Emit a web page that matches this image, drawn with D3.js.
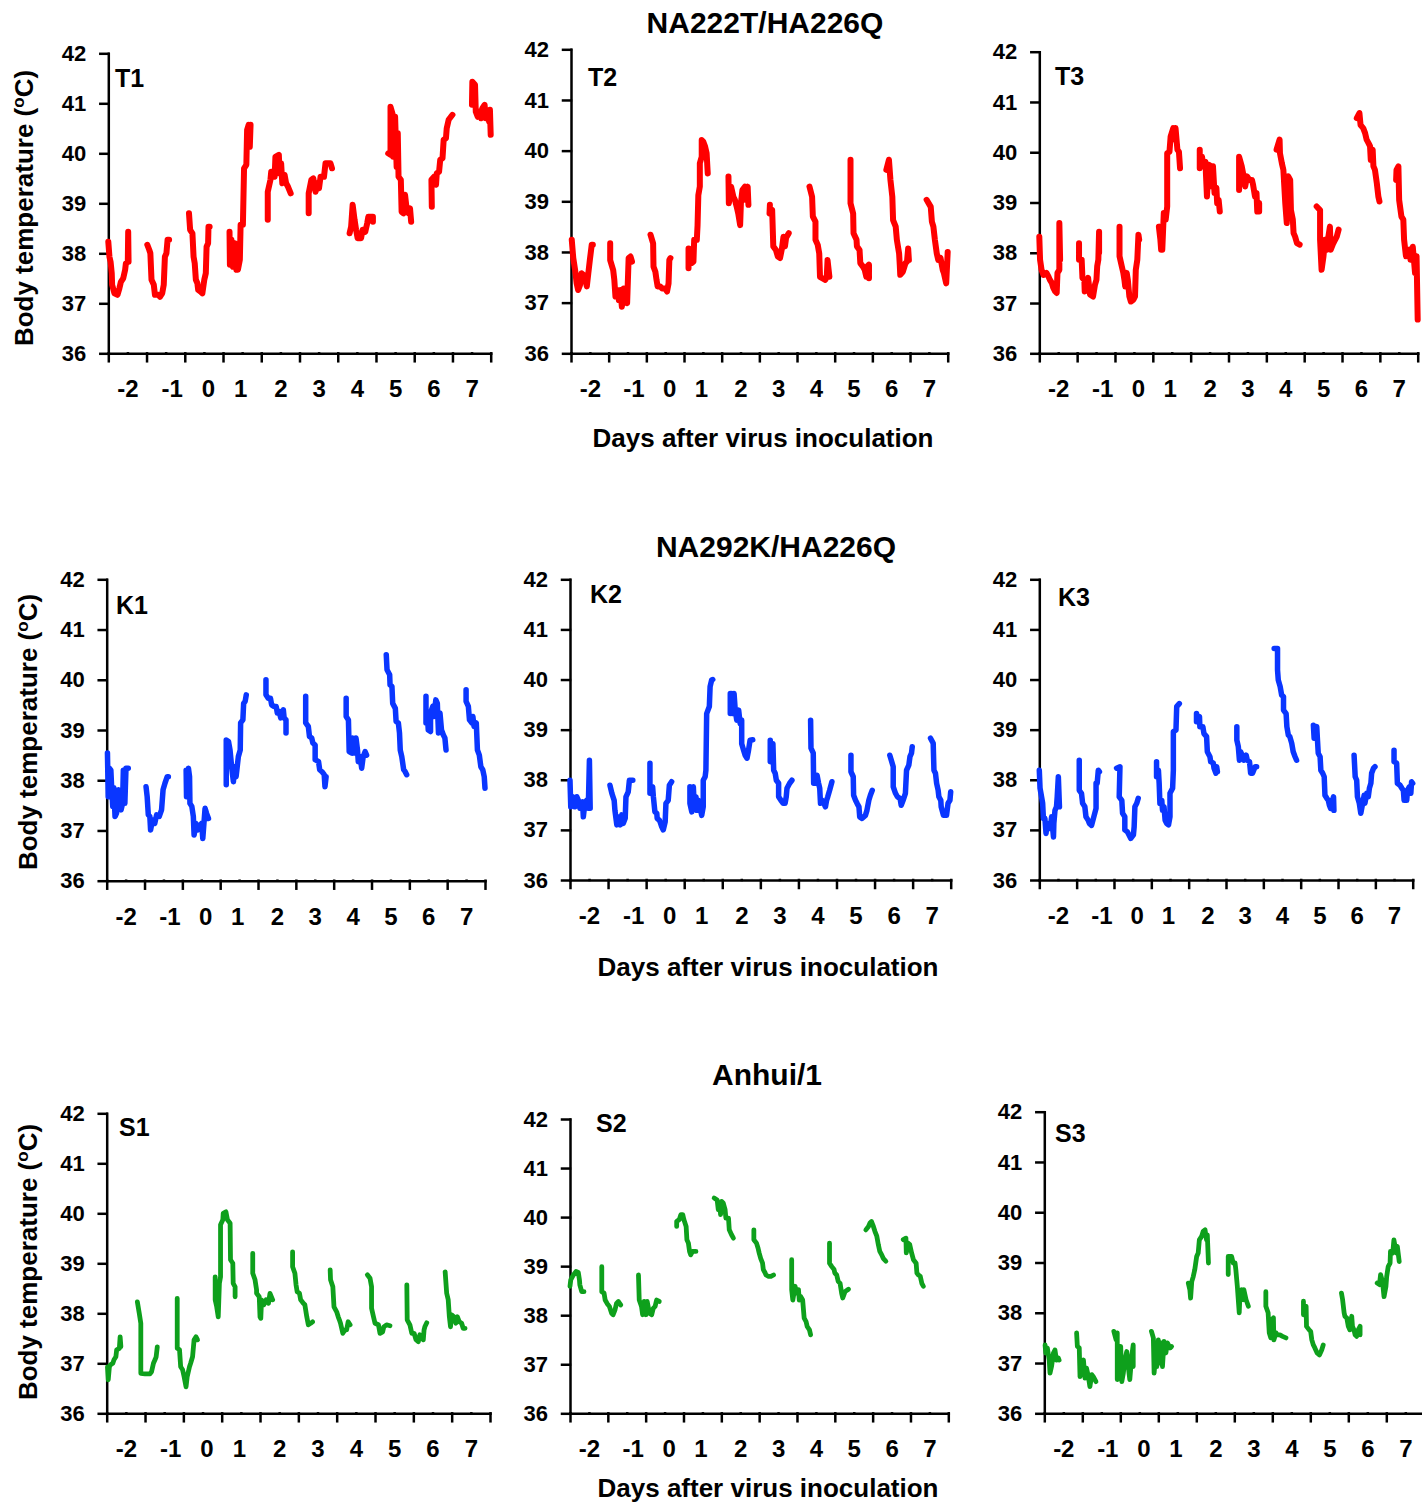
<!DOCTYPE html>
<html>
<head>
<meta charset="utf-8">
<script src="https://cdn.jsdelivr.net/npm/d3@7"></script>
<style>
body { margin: 0; background: #fff; }
text { font-family: Arial, "Liberation Sans", sans-serif; font-weight: bold; fill: #000; }
</style>
</head>
<body>
<div id="chart"></div>
<script>
// day labels on the x axis and temperature ticks on the y axis
const dayLabels = [-2, -1, 0, 1, 2, 3, 4, 5, 6, 7];
const tempTicks = [36, 37, 38, 39, 40, 41, 42];

// telemetry traces, one entry per day: [day, [[fraction of day after that day's tick, temperature], ...]]
const t1 = [
  [-2, [[0,38.23],[.03,37.93],[.06,37.83],[.09,37.6],[.10,37.37],[.16,37.2],[.24,37.17],[.29,37.3],[.33,37.43],[.39,37.5],[.44,37.67],[.46,37.8],[.51,37.83],[.52,38.43],[.53,37.83]]],
  [-1, [[.02,38.17],[.07,38.07],[.10,38.0],[.13,37.47],[.19,37.37],[.22,37.17],[.31,37.17],[.35,37.13],[.41,37.2],[.45,37.37],[.48,37.93],[.52,38.0],[.55,38.27],[.59,38.27]]],
  [0, [[.11,38.8],[.14,38.47],[.20,38.4],[.23,37.93],[.26,37.8],[.29,37.47],[.33,37.4],[.35,37.27],[.42,37.23],[.46,37.2],[.51,37.47],[.55,37.6],[.57,38.13],[.61,38.2],[.62,38.53],[.65,38.53]]],
  [1, [[.17,38.43],[.18,37.77],[.22,38.27],[.26,37.73],[.31,38.2],[.35,37.67],[.39,37.67],[.44,37.87],[.46,38.57],[.52,38.57],[.55,39.7],[.61,39.77],[.63,40.47],[.67,40.57],[.70,40.13],[.72,40.57]]],
  [2, [[.17,38.67],[.17,39.23],[.24,39.47],[.26,39.63],[.32,39.63],[.35,39.53],[.37,39.93],[.46,39.97],[.48,39.6],[.52,39.8],[.55,39.4],[.61,39.57],[.65,39.4],[.70,39.33],[.77,39.2]]],
  [3, [[.24,38.8],[.24,39.2],[.31,39.47],[.36,39.5],[.42,39.23],[.46,39.4],[.51,39.3],[.55,39.53],[.64,39.53],[.68,39.8],[.81,39.8],[.85,39.7]]],
  [4, [[.31,38.4],[.35,38.53],[.39,38.97],[.44,38.67],[.48,38.47],[.52,38.3],[.61,38.3],[.65,38.47],[.72,38.43],[.77,38.6],[.80,38.73],[.92,38.73],[.92,38.63]]],
  [5, [[.32,40.0],[.38,39.97],[.38,40.93],[.44,40.77],[.45,39.93],[.50,40.73],[.54,39.73],[.57,40.4],[.59,39.53],[.65,39.47],[.67,38.83],[.72,38.8],[.76,39.17],[.80,38.9],[.85,38.8],[.89,38.9],[.92,38.63]]],
  [6, [[.46,38.93],[.45,39.47],[.52,39.53],[.57,39.37],[.59,39.6],[.65,39.63],[.68,39.87],[.74,39.9],[.77,40.27],[.83,40.3],[.85,40.5],[.90,40.67],[1.0,40.77]]],
  [7, [[.51,40.97],[.52,41.43],[.59,41.37],[.61,40.83],[.66,40.73],[.70,40.83],[.75,40.7],[.78,40.9],[.84,40.97],[.87,40.7],[.92,40.77],[.96,40.63],[.98,40.87],[1.0,40.37]]]
];
const t2 = [
  [-2, [[.02,38.24],[.06,37.88],[.11,37.64],[.15,37.38],[.19,37.25],[.24,37.35],[.28,37.58],[.33,37.55],[.37,37.48],[.42,37.32],[.46,37.58],[.50,37.84],[.55,38.14],[.58,38.14]]],
  [-1, [[.04,38.17],[.04,37.84],[.12,37.64],[.15,37.45],[.18,37.12],[.24,37.25],[.27,37.05],[.31,37.25],[.35,36.92],[.40,37.28],[.44,37.12],[.49,36.99],[.53,37.88],[.58,37.91],[.62,37.81]]],
  [0, [[.11,38.34],[.18,38.17],[.19,37.71],[.24,37.61],[.27,37.45],[.30,37.32],[.37,37.32],[.42,37.28],[.50,37.28],[.55,37.22],[.59,37.38],[.61,37.84],[.64,37.88]]],
  [1, [[.12,37.68],[.12,38.07],[.19,38.04],[.20,37.78],[.25,37.81],[.27,38.24],[.34,38.24],[.36,38.53],[.38,39.12],[.42,39.29],[.42,39.75],[.47,39.88],[.47,40.21],[.51,40.18],[.56,40.08],[.60,39.95],[.63,39.55]]],
  [2, [[.18,39.49],[.19,38.96],[.25,39.29],[.31,39.09],[.35,39.03],[.40,38.89],[.44,38.76],[.49,38.53],[.51,38.96],[.55,39.22],[.62,39.29],[.64,39.03],[.69,39.29],[.71,38.93]]],
  [3, [[.28,38.93],[.27,38.76],[.34,38.83],[.37,38.11],[.44,38.04],[.49,37.91],[.55,37.88],[.60,38.07],[.64,38.3],[.68,38.11],[.71,38.28],[.78,38.37]]],
  [4, [[.33,39.29],[.40,39.09],[.42,38.7],[.49,38.6],[.49,38.24],[.55,38.14],[.59,37.97],[.61,37.51],[.68,37.48],[.75,37.45],[.79,37.51],[.81,37.84],[.86,37.51]]],
  [5, [[.42,39.82],[.42,38.96],[.49,38.76],[.50,38.37],[.58,38.24],[.59,38.11],[.66,38.04],[.68,37.78],[.75,37.71],[.80,37.64],[.84,37.51],[.86,37.71],[.91,37.75],[.91,37.48]]],
  [6, [[.37,39.62],[.44,39.82],[.48,39.42],[.53,39.09],[.55,38.63],[.62,38.5],[.65,38.24],[.71,37.97],[.73,37.71],[.74,37.55],[.81,37.61],[.88,37.78],[.92,37.81],[.95,38.07],[.97,37.84]]],
  [7, [[.44,39.03],[.55,38.89],[.58,38.6],[.62,38.5],[.66,38.24],[.71,37.97],[.75,37.84],[.81,37.88],[.87,37.64],[.90,37.58],[.96,37.38],[.99,37.84],[1.0,38.0]]]
];
const t3 = [
  [-2, [[0,38.32],[.02,37.86],[.06,37.66],[.11,37.56],[.19,37.6],[.24,37.53],[.28,37.46],[.33,37.4],[.37,37.3],[.42,37.23],[.46,37.2],[.48,37.6],[.53,37.66],[.53,38.59],[.55,37.86]]],
  [-1, [[.05,38.19],[.05,37.86],[.12,37.86],[.14,37.5],[.19,37.46],[.20,37.23],[.25,37.4],[.29,37.5],[.34,37.17],[.42,37.13],[.47,37.36],[.51,37.46],[.53,37.73],[.56,37.86],[.58,38.42],[.58,38.0]]],
  [0, [[.12,38.52],[.12,37.93],[.18,37.73],[.22,37.6],[.25,37.46],[.27,37.33],[.31,37.6],[.34,37.46],[.38,37.13],[.42,37.03],[.49,37.07],[.53,37.13],[.55,37.66],[.59,37.86],[.62,38.36],[.64,38.26]]],
  [1, [[.16,38.52],[.20,38.26],[.22,38.06],[.25,38.06],[.29,38.79],[.34,38.66],[.38,38.92],[.38,39.98],[.44,40.01],[.47,40.31],[.54,40.48],[.58,40.25],[.60,40.48],[.65,40.05],[.69,40.01],[.72,39.68]]],
  [2, [[.24,40.05],[.24,39.68],[.30,39.91],[.34,39.72],[.39,39.81],[.43,39.12],[.48,39.75],[.54,39.72],[.56,39.32],[.59,39.72],[.63,39.19],[.68,39.29],[.70,38.99],[.74,39.05],[.77,38.82]]],
  [3, [[.28,39.25],[.28,39.91],[.35,39.72],[.40,39.52],[.44,39.32],[.49,39.52],[.55,39.45],[.62,39.45],[.65,39.35],[.70,39.12],[.74,39.19],[.76,38.82],[.81,38.99],[.81,38.82]]],
  [4, [[.27,40.05],[.35,40.25],[.36,39.98],[.41,39.78],[.45,39.65],[.50,38.99],[.54,38.59],[.58,39.52],[.63,39.45],[.65,38.85],[.70,38.66],[.72,38.39],[.76,38.32],[.81,38.19],[.88,38.16]]],
  [5, [[.33,38.92],[.42,38.85],[.42,38.26],[.46,37.66],[.51,37.93],[.55,38.26],[.60,38.06],[.64,38.32],[.68,38.52],[.70,38.06],[.77,38.19],[.82,38.26],[.86,38.32],[.91,38.46]]],
  [6, [[.39,40.68],[.46,40.78],[.49,40.54],[.56,40.48],[.61,40.38],[.65,40.25],[.70,40.18],[.74,40.12],[.76,39.85],[.81,40.05],[.83,39.72],[.87,39.65],[.92,39.38],[.96,39.12],[.99,39.02]]],
  [7, [[.43,39.45],[.44,39.65],[.49,39.72],[.51,39.05],[.57,38.72],[.62,38.66],[.64,38.26],[.69,37.93],[.73,38.0],[.78,38.06],[.81,37.86],[.87,38.12],[.90,37.86],[.93,37.6],[.97,37.93],[1.0,36.67]]]
];
const k1 = [
  [-2, [[.02,38.54],[.04,37.67],[.07,38.24],[.11,38.2],[.13,37.87],[.16,37.48],[.19,37.85],[.22,37.28],[.26,37.34],[.31,37.81],[.35,37.54],[.38,37.41],[.42,37.54],[.44,38.2],[.48,37.54],[.51,38.24],[.57,38.24]]],
  [-1, [[.04,37.87],[.07,37.67],[.10,37.31],[.14,37.28],[.16,37.01],[.21,37.21],[.27,37.14],[.32,37.31],[.39,37.28],[.45,37.41],[.49,37.81],[.54,37.94],[.60,38.07],[.63,38.07]]],
  [0, [[.10,38.2],[.11,37.67],[.16,38.24],[.19,38.07],[.20,37.54],[.25,37.48],[.29,37.28],[.31,36.91],[.36,37.14],[.40,37.01],[.45,37.08],[.51,37.14],[.54,36.84],[.57,37.14],[.60,37.44],[.64,37.34],[.69,37.24]]],
  [1, [[.16,37.91],[.16,38.8],[.22,38.77],[.26,38.6],[.31,38.21],[.35,37.97],[.37,38.27],[.42,38.07],[.44,38.2],[.48,38.47],[.53,38.6],[.54,39.14],[.60,39.2],[.62,39.53],[.66,39.57],[.69,39.7]]],
  [2, [[.21,40.0],[.21,39.7],[.27,39.63],[.33,39.63],[.36,39.5],[.42,39.47],[.48,39.47],[.51,39.34],[.56,39.37],[.60,39.24],[.67,39.4],[.69,39.24],[.74,39.2],[.74,38.94]]],
  [3, [[.26,39.67],[.26,39.14],[.33,39.07],[.36,38.87],[.42,38.84],[.45,38.74],[.51,38.7],[.51,38.41],[.60,38.37],[.63,38.21],[.69,38.17],[.75,38.11],[.77,37.87],[.80,38.07]]],
  [4, [[.33,39.63],[.33,39.27],[.39,39.2],[.41,38.57],[.48,38.54],[.50,38.84],[.54,38.54],[.59,38.84],[.63,38.6],[.65,38.37],[.70,38.47],[.74,38.24],[.78,38.47],[.83,38.57],[.87,38.5]]],
  [5, [[.39,40.5],[.41,40.2],[.48,40.1],[.49,39.9],[.54,39.87],[.56,39.53],[.63,39.43],[.65,39.17],[.71,39.14],[.74,38.94],[.76,38.6],[.80,38.47],[.85,38.21],[.89,38.17],[.93,38.11]]],
  [6, [[.44,39.67],[.44,39.14],[.48,39.27],[.50,39.0],[.56,38.97],[.56,39.34],[.62,39.47],[.65,39.27],[.70,39.6],[.74,39.53],[.77,38.94],[.81,39.34],[.85,39.0],[.90,38.9],[.94,38.84],[.97,38.6]]],
  [7, [[.50,39.8],[.50,39.57],[.56,39.47],[.59,39.2],[.65,39.14],[.68,39.27],[.71,39.07],[.77,39.14],[.80,38.6],[.85,38.5],[.89,38.27],[.94,38.21],[.98,38.07],[1.0,37.84]]]
];
const k2 = [
  [-2, [[0,37.99],[.02,37.46],[.07,37.66],[.13,37.46],[.18,37.66],[.22,37.59],[.26,37.43],[.33,37.56],[.35,37.26],[.39,37.53],[.44,37.59],[.48,37.43],[.51,38.39],[.53,37.43]]],
  [-1, [[.05,37.89],[.10,37.73],[.16,37.59],[.18,37.39],[.23,37.1],[.27,37.26],[.32,37.1],[.36,37.3],[.40,37.13],[.45,37.23],[.47,37.66],[.53,37.76],[.56,37.99],[.65,37.99]]],
  [0, [[.10,38.33],[.10,37.73],[.17,37.86],[.19,37.66],[.23,37.36],[.28,37.33],[.29,37.23],[.35,37.19],[.38,37.13],[.41,37.06],[.45,37.0],[.50,37.16],[.52,37.53],[.58,37.59],[.61,37.89],[.67,37.96]]],
  [1, [[.15,37.86],[.15,37.53],[.20,37.36],[.24,37.86],[.26,37.53],[.31,37.66],[.33,37.39],[.37,37.59],[.42,37.43],[.46,37.29],[.50,37.46],[.50,37.99],[.55,38.06],[.57,38.19],[.59,39.32],[.66,39.46],[.68,39.86],[.72,39.99],[.75,40.0]]],
  [2, [[.21,39.72],[.21,39.32],[.25,39.72],[.28,39.32],[.31,39.72],[.34,39.39],[.38,39.19],[.43,39.39],[.47,39.12],[.51,39.19],[.51,38.72],[.56,38.59],[.60,38.49],[.65,38.43],[.69,38.59],[.73,38.79],[.80,38.8]]],
  [3, [[.26,38.79],[.26,38.36],[.33,38.72],[.35,38.19],[.39,38.13],[.42,37.99],[.48,37.93],[.48,37.66],[.54,37.59],[.60,37.53],[.65,37.53],[.68,37.66],[.70,37.83],[.77,37.93],[.83,37.99]]],
  [4, [[.32,39.19],[.33,38.63],[.39,38.53],[.40,37.93],[.47,37.93],[.49,38.09],[.53,37.93],[.56,37.83],[.58,37.53],[.62,37.59],[.67,37.53],[.71,37.46],[.74,37.59],[.77,37.66],[.82,37.79],[.88,37.96]]],
  [5, [[.38,38.49],[.38,38.16],[.44,38.06],[.45,37.69],[.50,37.59],[.54,37.53],[.59,37.46],[.61,37.26],[.67,37.23],[.76,37.29],[.80,37.39],[.85,37.59],[.89,37.69],[.94,37.79]]],
  [6, [[.40,38.49],[.44,38.39],[.49,38.26],[.49,37.86],[.55,37.73],[.60,37.66],[.67,37.63],[.70,37.49],[.75,37.59],[.81,37.73],[.84,38.19],[.90,38.29],[.93,38.46],[.97,38.53],[.99,38.66]]],
  [7, [[.47,38.83],[.54,38.73],[.56,38.19],[.60,38.13],[.63,37.93],[.67,37.79],[.69,37.66],[.74,37.59],[.75,37.46],[.81,37.29],[.89,37.29],[.93,37.53],[.98,37.59],[1.0,37.76]]]
];
const k3 = [
  [-2, [[0,38.19],[.02,37.83],[.06,37.66],[.09,37.53],[.11,37.23],[.15,37.23],[.18,36.93],[.21,37.13],[.27,37.03],[.30,37.09],[.33,37.26],[.38,36.86],[.39,37.13],[.42,37.39],[.46,37.46],[.48,37.66],[.51,38.06],[.54,37.46]]],
  [-1, [[.07,38.39],[.07,37.79],[.13,37.73],[.16,37.53],[.22,37.46],[.25,37.26],[.31,37.19],[.34,37.13],[.40,37.09],[.46,37.26],[.52,37.43],[.52,37.93],[.55,37.93],[.58,38.19],[.61,38.16]]],
  [0, [[.07,38.23],[.16,38.26],[.14,37.66],[.21,37.59],[.23,37.33],[.29,37.26],[.29,37.0],[.36,36.96],[.38,36.93],[.45,36.83],[.52,36.9],[.54,37.06],[.56,37.46],[.61,37.53],[.65,37.63]]],
  [1, [[.14,38.36],[.14,38.06],[.19,38.19],[.21,37.93],[.23,37.53],[.28,37.59],[.30,37.39],[.34,37.46],[.37,37.19],[.41,37.13],[.46,37.1],[.50,37.26],[.50,37.73],[.57,37.83],[.59,38.19],[.59,38.96],[.66,38.99],[.68,39.46],[.75,39.52]]],
  [2, [[.21,39.32],[.21,39.16],[.29,39.26],[.30,39.06],[.38,39.06],[.41,38.92],[.48,38.86],[.50,38.56],[.57,38.46],[.59,38.36],[.66,38.33],[.68,38.23],[.73,38.13],[.75,38.26],[.77,38.16]]],
  [3, [[.29,39.06],[.29,38.79],[.33,38.66],[.36,38.39],[.39,38.56],[.45,38.46],[.48,38.39],[.54,38.49],[.57,38.39],[.63,38.36],[.66,38.13],[.71,38.13],[.78,38.26],[.82,38.26]]],
  [4, [[.29,40.62],[.38,40.62],[.38,40.19],[.40,39.99],[.45,39.86],[.49,39.69],[.54,39.66],[.54,39.39],[.61,39.32],[.63,39.06],[.67,38.89],[.71,38.86],[.76,38.73],[.80,38.56],[.85,38.46],[.89,38.39]]],
  [5, [[.34,39.09],[.36,38.83],[.43,39.06],[.45,38.79],[.47,38.53],[.52,38.46],[.54,38.19],[.59,38.13],[.63,38.06],[.65,37.69],[.70,37.63],[.74,37.59],[.77,37.49],[.80,37.43],[.83,37.53],[.88,37.66],[.89,37.39]]],
  [6, [[.43,38.49],[.46,38.06],[.50,37.99],[.52,37.66],[.57,37.53],[.61,37.33],[.66,37.53],[.70,37.69],[.72,37.53],[.77,37.73],[.81,37.66],[.84,37.83],[.88,37.93],[.90,38.13],[.95,38.23],[.99,38.26]]],
  [7, [[.50,38.59],[.50,38.36],[.57,38.33],[.59,37.93],[.66,37.89],[.71,37.83],[.75,37.79],[.77,37.59],[.84,37.59],[.86,37.79],[.91,37.86],[.95,37.73],[.97,37.96],[1.0,37.93]]]
];
const s1 = [
  [-2, [[.02,36.93],[.04,36.67],[.07,36.93],[.10,36.97],[.16,37.0],[.19,37.07],[.24,37.13],[.26,37.27],[.33,37.3],[.35,37.53],[.37,37.33]]],
  [-1, [[-.20,38.23],[-.15,38.0],[-.11,37.8],[-.11,36.8],[0,36.79],[.13,36.79],[.17,36.83],[.22,37.0],[.26,37.07],[.29,37.13],[.32,37.33]]],
  [0, [[-.16,38.3],[-.16,37.3],[-.10,37.27],[-.07,36.93],[-.02,36.87],[.02,36.73],[.07,36.53],[.10,36.73],[.16,36.93],[.19,37.0],[.24,37.13],[.28,37.47],[.33,37.53],[.37,37.47]]],
  [1, [[-.17,38.73],[-.17,38.27],[-.13,38.13],[-.09,37.93],[-.06,38.6],[-.03,38.73],[-.03,39.77],[.03,39.87],[.04,40.0],[.11,40.03],[.15,39.87],[.22,39.8],[.23,39.07],[.29,39.0],[.30,38.6],[.35,38.53],[.35,38.33]]],
  [2, [[-.19,39.2],[-.19,38.8],[-.13,38.67],[-.09,38.47],[-.09,38.4],[-.02,38.33],[0,37.93],[.02,37.9],[.04,38.27],[.10,38.17],[.16,38.27],[.22,38.2],[.26,38.4],[.33,38.27]]],
  [3, [[-.15,39.23],[-.15,38.93],[-.09,38.8],[-.06,38.57],[-.03,38.43],[.03,38.4],[.06,38.27],[.13,38.2],[.17,38.17],[.22,37.93],[.26,37.77],[.32,37.8],[.37,37.83]]],
  [4, [[-.17,38.87],[-.16,38.67],[-.10,38.53],[-.07,38.13],[0,38.03],[.04,37.93],[.07,37.87],[.10,37.8],[.16,37.6],[.22,37.67],[.26,37.67],[.30,37.83],[.35,37.77]]],
  [5, [[-.20,38.77],[-.13,38.7],[-.09,38.53],[-.09,38.1],[-.04,37.93],[0,37.8],[.09,37.77],[.13,37.6],[.20,37.63],[.23,37.73],[.30,37.77],[.39,37.75]]],
  [6, [[-.17,38.57],[-.16,37.87],[-.09,37.77],[-.04,37.6],[.02,37.6],[.07,37.47],[.13,37.43],[.17,37.57],[.22,37.53],[.26,37.47],[.28,37.67],[.30,37.73],[.35,37.81]]],
  [7, [[-.17,38.83],[-.13,38.4],[-.09,38.27],[-.06,37.93],[-.03,37.73],[0,37.97],[.06,37.93],[.11,37.8],[.15,37.93],[.20,37.83],[.26,37.8],[.30,37.7],[.35,37.7]]]
];
const s2 = [
  [-2, [[0,38.59],[.02,38.72],[.09,38.82],[.16,38.89],[.22,38.87],[.25,38.72],[.26,38.62],[.31,38.48],[.37,38.48]]],
  [-1, [[-.16,38.99],[-.16,38.48],[-.10,38.45],[-.07,38.31],[-.02,38.24],[.04,38.18],[.10,38.04],[.14,38.01],[.19,38.11],[.23,38.24],[.28,38.28],[.34,38.21]]],
  [0, [[-.19,38.82],[-.17,38.31],[-.11,38.18],[-.08,38.01],[-.04,38.28],[.01,38.01],[.04,38.28],[.10,38.04],[.16,38.01],[.20,38.14],[.25,38.18],[.29,38.31],[.36,38.28]]],
  [1, [[-.18,39.81],[-.18,39.91],[-.11,39.95],[-.07,40.05],[-.02,40.05],[.01,39.95],[.07,39.81],[.09,39.54],[.13,39.47],[.16,39.3],[.19,39.23],[.24,39.3],[.33,39.3]]],
  [2, [[-.19,40.39],[-.11,40.35],[-.08,40.15],[-.04,40.29],[-.02,40.05],[.01,40.32],[.05,40.29],[.10,40.15],[.12,39.98],[.19,39.98],[.21,39.74],[.27,39.64],[.32,39.57]]],
  [3, [[-.14,39.74],[-.14,39.54],[-.07,39.47],[-.03,39.37],[0,39.27],[.04,39.16],[.09,39.06],[.11,38.93],[.16,38.86],[.18,38.82],[.25,38.79],[.31,38.79],[.38,38.82]]],
  [4, [[-.14,39.13],[-.14,38.52],[-.11,38.31],[-.05,38.59],[-.01,38.45],[.04,38.52],[.06,38.31],[.10,38.38],[.15,38.31],[.19,37.94],[.24,37.87],[.27,37.77],[.33,37.7],[.36,37.6]]],
  [5, [[-.14,39.47],[-.14,39.06],[-.08,38.99],[-.02,38.93],[0,38.86],[.05,38.82],[.09,38.69],[.14,38.65],[.18,38.45],[.21,38.35],[.27,38.48],[.36,38.53]]],
  [6, [[-.18,39.74],[-.11,39.81],[-.07,39.88],[-.03,39.91],[.02,39.81],[.06,39.71],[.11,39.61],[.15,39.44],[.19,39.3],[.24,39.23],[.28,39.16],[.35,39.1]]],
  [7, [[-.19,39.54],[-.12,39.57],[-.11,39.27],[-.06,39.47],[-.02,39.44],[.03,39.27],[.08,39.13],[.15,39.06],[.17,38.86],[.21,38.82],[.26,38.79],[.30,38.65],[.34,38.59]]]
];
const s3 = [
  [-2, [[.02,37.36],[.04,37.2],[.08,37.3],[.13,37.06],[.15,36.8],[.19,36.93],[.24,37.2],[.28,37.26],[.32,37.06],[.37,37.1],[.39,37.06]]],
  [-1, [[-.15,37.6],[-.13,37.33],[-.08,37.3],[-.06,36.73],[-.02,36.93],[.03,37.06],[.07,36.7],[.11,36.9],[.16,36.73],[.20,36.53],[.25,36.77],[.29,36.73],[.36,36.63]]],
  [0, [[-.17,37.63],[-.11,37.46],[-.08,37.6],[-.08,36.67],[-.03,36.73],[.01,37.33],[.04,36.63],[.08,36.8],[.12,37.06],[.17,37.23],[.21,36.93],[.25,36.67],[.30,37.13],[.34,37.36],[.34,36.93]]],
  [1, [[-.18,37.63],[-.13,37.5],[-.11,36.8],[-.06,37.26],[-.04,36.93],[0,37.46],[.04,37.0],[.09,37.4],[.11,36.93],[.15,37.43],[.20,37.2],[.24,37.4],[.31,37.3],[.35,37.33]]],
  [2, [[-.21,38.59],[-.17,38.46],[-.15,38.29],[-.12,38.62],[-.08,38.72],[-.04,38.86],[.01,39.12],[.05,39.19],[.08,39.45],[.14,39.52],[.18,39.62],[.23,39.65],[.27,39.45],[.29,39.55],[.32,38.99]]],
  [3, [[-.16,38.76],[-.16,39.12],[-.07,39.12],[-.03,38.99],[.02,38.99],[.04,38.86],[.08,38.52],[.13,38.0],[.15,38.39],[.19,38.46],[.24,38.26],[.25,38.46],[.31,38.26],[.37,38.13]]],
  [4, [[-.17,38.42],[-.17,38.13],[-.11,38.0],[-.08,37.6],[-.04,37.5],[-.02,37.86],[.03,37.9],[.04,37.46],[.10,37.6],[.13,37.56],[.20,37.56],[.27,37.53],[.36,37.5]]],
  [5, [[-.18,38.23],[-.18,37.96],[-.11,38.13],[-.10,37.73],[-.03,37.66],[.01,37.63],[.04,37.46],[.08,37.36],[.12,37.3],[.18,37.2],[.24,37.16],[.30,37.26],[.34,37.36]]],
  [6, [[-.18,38.39],[-.15,38.26],[-.11,38.0],[-.09,37.93],[-.04,37.9],[0,37.73],[.04,37.66],[.09,37.93],[.11,37.73],[.15,37.66],[.18,37.56],[.22,37.53],[.26,37.66],[.31,37.73],[.31,37.56]]],
  [7, [[-.24,38.59],[-.18,38.56],[-.15,38.76],[-.10,38.62],[-.06,38.32],[-.01,38.52],[.01,38.72],[.05,38.92],[.10,38.99],[.11,39.22],[.17,39.19],[.20,39.45],[.23,39.32],[.27,39.19],[.29,39.32],[.34,39.02]]]
];

const groupTitles = ["NA222T/HA226Q", "NA292K/HA226Q", "Anhui/1"];
const xTitle = "Days after virus inoculation";

// panel placement (pixels)
const panels = [
  { data: t1, name: "T1", color: "#ff0000", w: 6, left: 108.3, right: 490.7, top: 53.3, bottom: 353.3, lx: 115, ly: 87 },
  { data: t2, name: "T2", color: "#ff0000", w: 6, left: 571, right: 947.7, top: 49.3, bottom: 353.3, lx: 588, ly: 86 },
  { data: t3, name: "T3", color: "#ff0000", w: 6, left: 1039.3, right: 1417.7, top: 51.7, bottom: 353.3, lx: 1055, ly: 85 },
  { data: k1, name: "K1", color: "#0a36ff", w: 5.5, left: 106.7, right: 485, top: 579.3, bottom: 880.7, lx: 116, ly: 614 },
  { data: k2, name: "K2", color: "#0a36ff", w: 5.5, left: 570, right: 950.7, top: 579.3, bottom: 880, lx: 590, ly: 603 },
  { data: k3, name: "K3", color: "#0a36ff", w: 5.5, left: 1039.3, right: 1412.7, top: 579.3, bottom: 880, lx: 1058, ly: 606 },
  { data: s1, name: "S1", color: "#0ea01c", w: 4.8, left: 106.7, right: 490, top: 1113.3, bottom: 1413.3, lx: 119, ly: 1136 },
  { data: s2, name: "S2", color: "#0ea01c", w: 4.8, left: 570, right: 948.3, top: 1119, bottom: 1413.3, lx: 596, ly: 1132 },
  { data: s3, name: "S3", color: "#0ea01c", w: 4.8, left: 1044.3, right: 1424.3, top: 1111.7, bottom: 1413.3, lx: 1055, ly: 1142 }
];
const titlePos = [[765, 33], [776, 557], [767, 1085]];
const xTitlePos = [[763, 447], [768, 976], [768, 1497]];
const yTitlePos = [[33, 208], [37, 732], [37, 1262]];

const svg = d3.select("#chart")
  .append("svg")
  .attr("width", 1422)
  .attr("height", 1503);

// tick marks sit on day boundaries, labels in between
const dayEdges = dayLabels.map(d => d - 0.5).concat(dayLabels[dayLabels.length - 1] + 0.5);

function drawPanel(p) {
  const x = d3.scaleLinear()
    .domain([dayEdges[0], dayEdges[dayEdges.length - 1]])
    .range([p.left, p.right]);
  const y = d3.scaleLinear()
    .domain([tempTicks[0], tempTicks[tempTicks.length - 1]])
    .range([p.bottom, p.top]);

  const g = svg.append("g");

  // x axis ticks
  g.append("g")
    .attr("transform", `translate(0,${p.bottom})`)
    .call(d3.axisBottom(x).tickValues(dayEdges).tickSize(8).tickSizeOuter(0).tickFormat(""));

  // day labels (the original sets -1 and 0 a little to the right)
  g.append("g")
    .attr("transform", `translate(0,${p.bottom})`)
    .call(d3.axisBottom(x).tickValues(dayLabels).tickSize(0).tickPadding(27).tickFormat(d => String(d)))
    .call(a => a.select(".domain").remove())
    .selectAll("text")
    .attr("dx", d => d === -1 ? 6 : d === 0 ? 4 : d === 1 ? -2 : 0)
    .style("font-size", "24px");

  // y axis
  g.append("g")
    .attr("transform", `translate(${p.left},0)`)
    .call(d3.axisLeft(y).tickValues(tempTicks).tickSize(8).tickSizeOuter(0).tickPadding(14).tickFormat(d => String(d)))
    .selectAll("text")
    .style("font-size", "22px");

  g.selectAll(".domain, .tick line")
    .attr("stroke", "#000")
    .attr("stroke-width", 2.5)
    .attr("stroke-linecap", "square");

  // traces, one path per day
  const line = d3.line()
    .x(d => x(d[0]))
    .y(d => y(d[1]));

  g.append("g")
    .selectAll("path")
    .data(p.data)
    .join("path")
    .attr("d", ([day, pts]) => line(pts.map(([f, t]) => [day - 0.5 + f, t])))
    .attr("fill", "none")
    .attr("stroke", p.color)
    .attr("stroke-width", p.w)
    .attr("stroke-linejoin", "round")
    .attr("stroke-linecap", "round");

  // panel name
  g.append("text")
    .attr("x", p.lx)
    .attr("y", p.ly)
    .style("font-size", "25px")
    .text(p.name);
}

panels.forEach(drawPanel);

// row titles
groupTitles.forEach((t, i) => {
  svg.append("text")
    .attr("x", titlePos[i][0])
    .attr("y", titlePos[i][1])
    .attr("text-anchor", "middle")
    .style("font-size", "30px")
    .text(t);

  svg.append("text")
    .attr("x", xTitlePos[i][0])
    .attr("y", xTitlePos[i][1])
    .attr("text-anchor", "middle")
    .style("font-size", "26px")
    .text(xTitle);

  const yt = svg.append("text")
    .attr("transform", `translate(${yTitlePos[i][0]},${yTitlePos[i][1]}) rotate(-90)`)
    .attr("text-anchor", "middle")
    .style("font-size", "26px");
  yt.append("tspan").text("Body temperature (");
  yt.append("tspan").attr("dy", -9).style("font-size", "17px").text("o");
  yt.append("tspan").attr("dy", 9).text("C)");
});
</script>
</body>
</html>
